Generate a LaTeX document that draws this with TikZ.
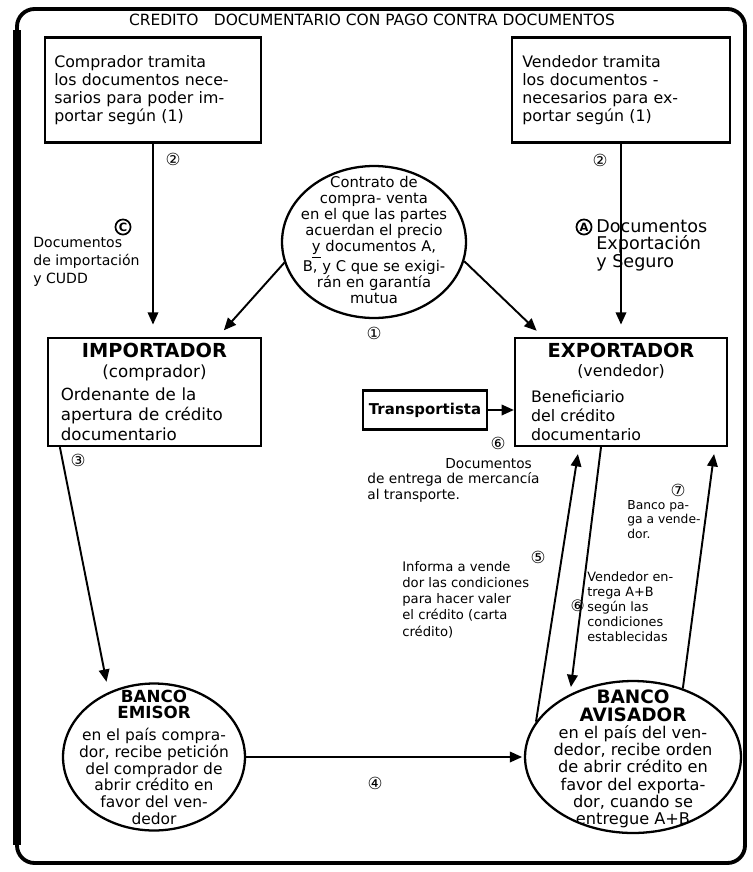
\documentclass[tikz,border=0pt]{standalone}
\usepackage{fontspec}
\setmainfont{DejaVu Sans}
\usetikzlibrary{positioning, arrows.meta, shapes.geometric}

\newcommand{\fontsz}[2]{\fontsize{#1}{#2}\selectfont}

\begin{document}
\begin{tikzpicture}[x=0.02cm, y=-0.02cm, font=\fontsz{9}{10.2},
    box/.style={draw, line width=1.3pt, align=left, inner sep=0pt},
    bank/.style={ellipse, draw, line width=1.3pt, inner sep=0pt},
    inside/.style={align=center, inner sep=0pt},
    num/.style={inner sep=0pt, font=\fontsz{9.5}{9.5}},
    circled/.style={circle, draw, line width=1pt, inner sep=0pt, minimum size=8.6pt, font=\fontsz{6.5}{6.5}\bfseries},
    note/.style={align=left, inner sep=0pt, anchor=north west},
    flow/.style={->, >={Triangle[length=7pt, width=6pt]}, line width=1.1pt}]
  \useasboundingbox (0,0) rectangle (752,872);

  % frame and title
  \draw[line width=2.2pt, rounded corners=10pt] (17,9) rectangle (745,863);
  \draw[line width=5pt] (17,30) -- (17,845);
  \node[font=\fontsz{8.8}{9}] (title) at (372,20) {CREDITO\quad DOCUMENTARIO CON PAGO CONTRA DOCUMENTOS};

  % boxes
  \node[box, minimum width=4.32cm, minimum height=2.1cm, text width=3.95cm] (comp) at (153,90)
    {Comprador tramita\\ los documentos nece-\\ sarios para poder im-\\ portar según (1)};
  \node[box, minimum width=4.36cm, minimum height=2.1cm, text width=3.95cm] (vend) at (621,90)
    {Vendedor tramita\\ los documentos -\\ necesarios para ex-\\ portar según (1)};
  \node[box, minimum width=4.26cm, minimum height=2.16cm, text width=3.75cm, font=\fontsz{9.5}{11.2}] (impo) at (154.5,392)
    {\makebox[\hsize]{\fontsz{11}{12}\bfseries IMPORTADOR}\\ \makebox[\hsize]{(comprador)}\\[2pt]
     Ordenante de la\\ apertura de crédito\\ documentario};
  \node[box, minimum width=4.24cm, minimum height=2.16cm, text width=3.6cm, font=\fontsz{9}{10.8}] (expo) at (621,392)
    {\makebox[\hsize]{\fontsz{11}{12}\bfseries EXPORTADOR}\\ \makebox[\hsize]{(vendedor)}\\[4pt]
     Beneficiario\\ del crédito\\ documentario};
  \node[box, minimum width=2.48cm, minimum height=0.78cm, align=center, font=\fontsz{8.5}{9}\bfseries] (trans) at (425,410) {Transportista};

  % circles
  \node[bank, minimum width=3.68cm, minimum height=3.04cm] (contrato) at (374,242) {};
  \node[inside, font=\fontsz{8.4}{9.1}] (contratotxt) at (374,240)
    {Contrato de\\ compra- venta\\ en el que las partes\\ acuerdan el precio\\ \underline{y} documentos A,\\ B, y C que se exigi-\\ rán en garantía\\ mutua};
  \node[bank, minimum width=3.64cm, minimum height=2.94cm] (emisor) at (154,757) {};
  \node[inside, font=\fontsz{8.8}{9.5}] (emisortxt) at (154,757)
    {{\fontsz{9.5}{9}\bfseries BANCO}\\ {\fontsz{9.5}{9}\bfseries EMISOR}\\[3pt] en el país compra-\\ dor, recibe petición\\ del comprador de\\ abrir crédito en\\ favor del ven-\\ dedor};
  \node[bank, minimum width=4.32cm, minimum height=3.04cm] (aviso) at (633,757) {};
  \node[inside, font=\fontsz{9.2}{9.8}] (avisotxt) at (633,759)
    {{\fontsz{10.5}{11}\bfseries BANCO}\\ {\fontsz{10.5}{11}\bfseries AVISADOR}\\ en el país del ven-\\ dedor, recibe orden\\ de abrir crédito en\\ favor del exporta-\\ dor, cuando se\\ entregue A+B};

  % numbers and labels
  \node[num] (n1) at (374,333) {①};
  \node[num] (n2a) at (173,159) {②};
  \node[num] (n2b) at (600,160) {②};
  \node[num] (n3) at (78,460) {③};
  \node[num] (n4) at (375,783) {④};
  \node[num] (n5) at (538,557) {⑤};
  \node[num] (n6) at (498,443) {⑥};
  \node[num] (n7) at (678,490) {⑦};
  \node[circled] (nc) at (123,227) {C};
  \node[circled] (na) at (584,227) {A};
  \node[note, font=\fontsz{8}{10.2}] (docimp) at (33,237) {Documentos\\ de importación\\ y CUDD};
  \node[note, font=\fontsz{10}{10}] (docexp) at (596,219) {Documentos\\ Exportación\\ y Seguro};
  \node[note, font=\fontsz{7.8}{8.8}] (docent) at (367,458) {\hspace*{1.56cm}Documentos\\ de entrega de mercancía\\ al transporte.};
  \node[note, font=\fontsz{7.5}{9.2}] (informa) at (402,561) {Informa a vende\\ dor las condiciones\\ para hacer valer\\ el crédito (carta\\ crédito)};
  \node[note, font=\fontsz{7.3}{8.6}] (entrega) at (587,571) {Vendedor en-\\ trega A+B\\ \llap{\fontsz{9}{8.6}⑥\,}según las\\ condiciones\\ establecidas};
  \node[note, font=\fontsz{7}{8.2}] (paga) at (627,500) {Banco pa-\\ ga a vende-\\ dor.};

  % arrows
  \draw[flow, shorten >=7pt] (comp.south) -- (comp.south |- impo.north);
  \draw[flow, shorten >=7pt] (vend.south) -- (vend.south |- expo.north);
  \draw[flow, shorten >=5pt] (contrato.193) -- ([xshift=1.27cm]impo.north);
  \draw[flow, shorten >=5pt] (contrato.348) -- ([xshift=-1.56cm]expo.north);
  \draw[flow] (trans.east) -- (trans.east -| expo.west);
  \draw[flow, shorten >=6pt] ([xshift=0.26cm]impo.south west) -- (emisor.125);
  \draw[flow, shorten >=1pt] (emisor.east) -- (aviso.west);
  \draw[flow, shorten >=4pt] (aviso.160) -- ([xshift=-0.84cm]expo.south);
  \draw[flow, shorten >=4pt] ([xshift=-0.4cm]expo.south) -- (aviso.135);
  \draw[flow, shorten >=4pt] (aviso.54) -- ([xshift=1.88cm]expo.south);
\end{tikzpicture}
\end{document}
